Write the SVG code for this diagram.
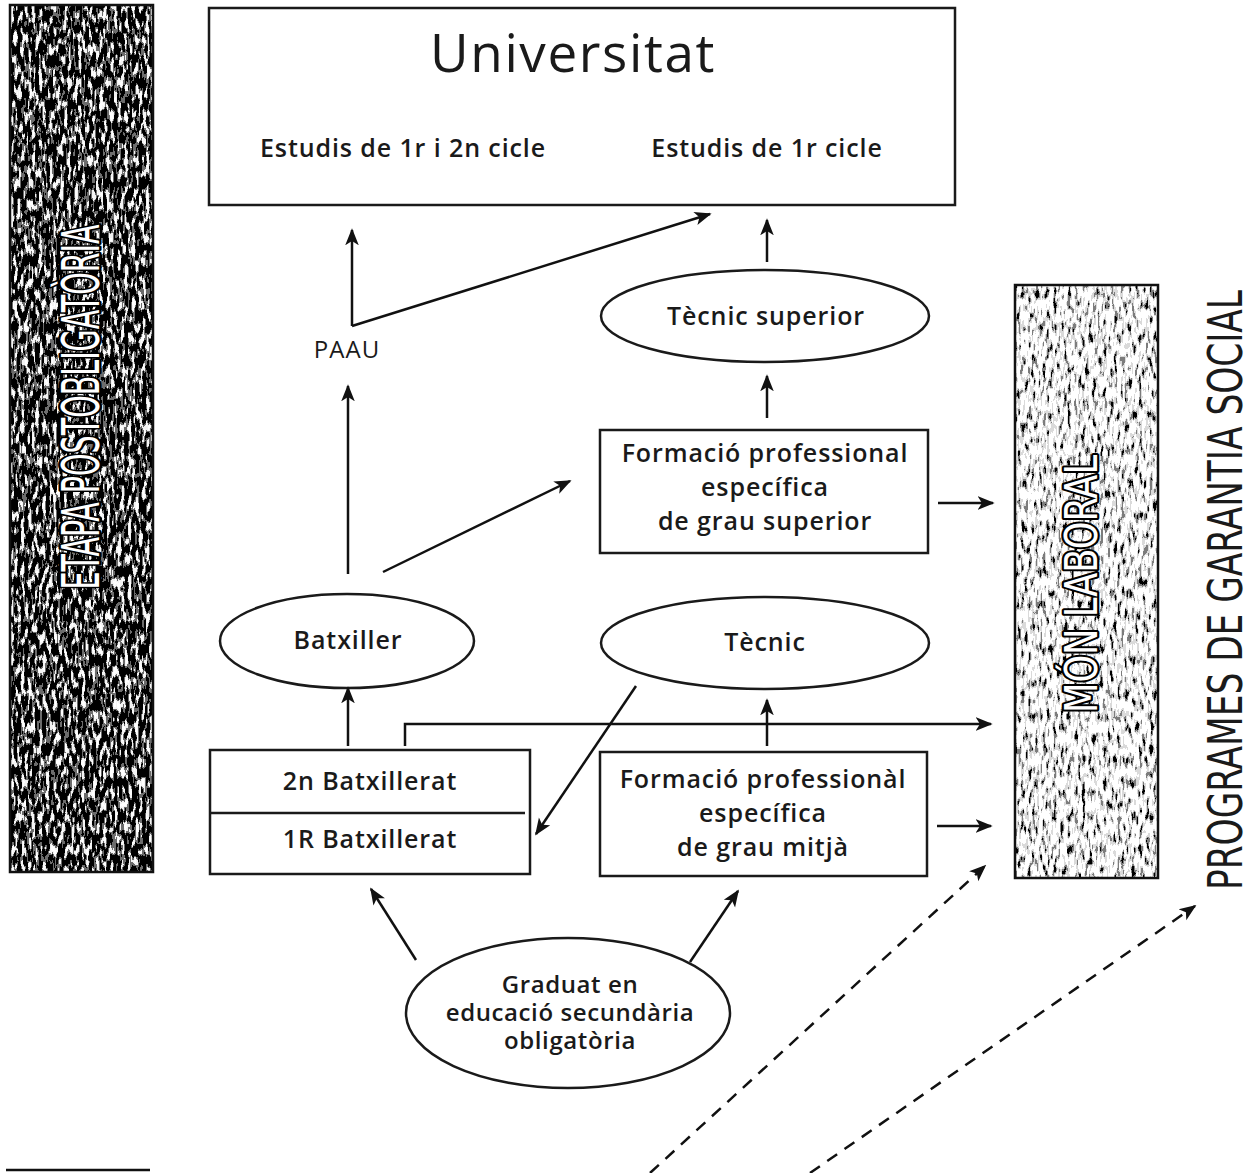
<svg xmlns="http://www.w3.org/2000/svg" width="1254" height="1173" viewBox="0 0 1254 1173">
<style>
  .box { fill: #ffffff; stroke: #1a1a1a; stroke-width: 2.5; }
  .conn { fill: none; stroke: #111; stroke-width: 2.5; }
  .dash { fill: none; stroke: #111; stroke-width: 2.5; stroke-dasharray: 12 9; }
  .lbl { font-family: "Open Sans", "Noto Sans", "Liberation Sans", sans-serif; font-weight: 600; font-size: 25px; letter-spacing: 0.9px; fill: #1a1a1a; text-anchor: middle; }
  .sm { font-size: 24px; letter-spacing: 0.6px; }
  .plain { font-family: "Open Sans", "Noto Sans", "Liberation Sans", sans-serif; font-weight: 400; font-size: 24px; letter-spacing: 1px; fill: #1a1a1a; text-anchor: middle; }
  .title { font-family: "Open Sans", "Noto Sans", "Liberation Sans", sans-serif; font-weight: 400; font-size: 53px; letter-spacing: 1.6px; fill: #1a1a1a; text-anchor: middle; }
  .bar { font-family: "Liberation Sans Narrow", "DejaVu Sans Condensed", "Liberation Sans", sans-serif; font-weight: 400; text-anchor: middle; }
  .halo { fill: #ffffff; stroke: #000; stroke-linejoin: round; }
</style>
<defs>
  <marker id="ahs" viewBox="0 0 10 10" refX="9" refY="5" markerWidth="17" markerHeight="17" markerUnits="userSpaceOnUse" orient="auto">
    <path d="M0,1 L10,5 L0,9 L2.5,5 Z" fill="#111"/>
  </marker>
  <filter id="noiseDark" x="0" y="0" width="100%" height="100%">
    <feTurbulence type="fractalNoise" baseFrequency="0.28 0.09" numOctaves="2" seed="4"/>
    <feColorMatrix type="matrix" values="1 0 0 0 0  1 0 0 0 0  1 0 0 0 0  0 0 0 0 1"/>
    <feComponentTransfer>
      <feFuncR type="discrete" tableValues="0 0 0 0 0 0.15 0.9 1 1 1"/>
      <feFuncG type="discrete" tableValues="0 0 0 0 0 0.15 0.9 1 1 1"/>
      <feFuncB type="discrete" tableValues="0 0 0 0 0 0.15 0.9 1 1 1"/>
    </feComponentTransfer>
  </filter>
  <filter id="noiseLight" x="0" y="0" width="100%" height="100%">
    <feTurbulence type="fractalNoise" baseFrequency="0.28 0.09" numOctaves="2" seed="9"/>
    <feColorMatrix type="matrix" values="1 0 0 0 0  1 0 0 0 0  1 0 0 0 0  0 0 0 0 1"/>
    <feComponentTransfer>
      <feFuncR type="discrete" tableValues="0 0 0 0.2 0.7 1 1 1 1 1"/>
      <feFuncG type="discrete" tableValues="0 0 0 0.2 0.7 1 1 1 1 1"/>
      <feFuncB type="discrete" tableValues="0 0 0 0.2 0.7 1 1 1 1 1"/>
    </feComponentTransfer>
  </filter>
</defs>

<rect width="1254" height="1173" fill="#ffffff"/>

<g id="etapa-postobligatoria">
  <rect x="10" y="5" width="143" height="867" fill="#444" filter="url(#noiseDark)"/>
  <rect x="10" y="5" width="143" height="867" fill="none" stroke="#111" stroke-width="2.5"/>
  <text class="bar halo" transform="translate(99,407) rotate(-90)" font-size="52" stroke-width="5" textLength="365" lengthAdjust="spacingAndGlyphs">ETAPA POSTOBLIGATÒRIA</text>
  <text class="bar" transform="translate(99,407) rotate(-90)" font-size="52" fill="#ffffff" textLength="365" lengthAdjust="spacingAndGlyphs">ETAPA POSTOBLIGATÒRIA</text>
</g>

<g id="mon-laboral">
  <rect x="1015" y="285" width="143" height="593" fill="#ccc" filter="url(#noiseLight)"/>
  <rect x="1015" y="285" width="143" height="593" fill="none" stroke="#111" stroke-width="2.5"/>
  <text class="bar halo" transform="translate(1097,584) rotate(-90)" font-size="44" stroke-width="4.5" textLength="258" lengthAdjust="spacingAndGlyphs">MÓN LABORAL</text>
  <text class="bar" transform="translate(1097,584) rotate(-90)" font-size="44" fill="#ffffff" textLength="258" lengthAdjust="spacingAndGlyphs">MÓN LABORAL</text>
</g>

<g id="programes-garantia-social">
  <text class="bar" transform="translate(1242,590) rotate(-90)" font-size="48" fill="#1a1a1a" textLength="600" lengthAdjust="spacingAndGlyphs">PROGRAMES DE GARANTIA SOCIAL</text>
</g>

<g id="universitat">
  <rect class="box" x="209" y="8" width="746" height="197"/>
  <text class="title" x="573" y="72">Universitat</text>
  <text class="lbl" x="403" y="157">Estudis de 1r i 2n cicle</text>
  <text class="lbl" x="767" y="157">Estudis de 1r cicle</text>
</g>

<g id="paau">
  <text class="plain" x="347" y="358">PAAU</text>
</g>

<g id="tecnic-superior">
  <ellipse class="box" cx="765" cy="316" rx="164" ry="46"/>
  <text class="lbl" x="766" y="325">Tècnic superior</text>
</g>

<g id="fp-grau-superior">
  <rect class="box" x="600" y="430" width="328" height="123"/>
  <text class="lbl" x="765" y="462">Formació professional</text>
  <text class="lbl" x="765" y="496">específica</text>
  <text class="lbl" x="765" y="530">de grau superior</text>
</g>

<g id="batxiller">
  <ellipse class="box" cx="347" cy="641" rx="127" ry="47"/>
  <text class="lbl" x="348" y="649">Batxiller</text>
</g>

<g id="tecnic">
  <ellipse class="box" cx="765" cy="643" rx="164" ry="46"/>
  <text class="lbl" x="765" y="651">Tècnic</text>
</g>

<g id="batxillerat">
  <rect class="box" x="210" y="750" width="320" height="124"/>
  <line x1="210" y1="813" x2="525" y2="813" stroke="#1a1a1a" stroke-width="2.5"/>
  <text class="lbl" x="370" y="790">2n Batxillerat</text>
  <text class="lbl" x="370" y="848">1R Batxillerat</text>
</g>

<g id="fp-grau-mitja">
  <rect class="box" x="600" y="752" width="327" height="124"/>
  <text class="lbl" x="763" y="788">Formació professionàl</text>
  <text class="lbl" x="763" y="822">específica</text>
  <text class="lbl" x="763" y="856">de grau mitjà</text>
</g>

<g id="graduat-eso">
  <ellipse class="box" cx="568" cy="1013" rx="162" ry="75"/>
  <text class="lbl sm" x="570" y="993">Graduat en</text>
  <text class="lbl sm" x="570" y="1021">educació secundària</text>
  <text class="lbl sm" x="570" y="1049">obligatòria</text>
</g>

<g id="connectors">
  <line class="conn" x1="352" y1="326" x2="352" y2="230" marker-end="url(#ahs)"/>
  <path class="conn" d="M352,326 L710,214" marker-end="url(#ahs)"/>
  <line class="conn" x1="767" y1="262" x2="767" y2="220" marker-end="url(#ahs)"/>
  <line class="conn" x1="348" y1="574" x2="348" y2="386" marker-end="url(#ahs)"/>
  <line class="conn" x1="383" y1="572" x2="570" y2="481" marker-end="url(#ahs)"/>
  <line class="conn" x1="767" y1="418" x2="767" y2="376" marker-end="url(#ahs)"/>
  <line class="conn" x1="938" y1="503" x2="993" y2="503" marker-end="url(#ahs)"/>
  <line class="conn" x1="348" y1="746" x2="348" y2="688" marker-end="url(#ahs)"/>
  <path class="conn" d="M405,746 L405,724 L991,724" marker-end="url(#ahs)"/>
  <line class="conn" x1="767" y1="746" x2="767" y2="700" marker-end="url(#ahs)"/>
  <line class="conn" x1="636" y1="686" x2="536" y2="834" marker-end="url(#ahs)"/>
  <line class="conn" x1="937" y1="826" x2="991" y2="826" marker-end="url(#ahs)"/>
  <line class="conn" x1="416" y1="960" x2="371" y2="889" marker-end="url(#ahs)"/>
  <line class="conn" x1="690" y1="962" x2="738" y2="891" marker-end="url(#ahs)"/>
  <line class="dash" x1="650" y1="1173" x2="985" y2="866" marker-end="url(#ahs)"/>
  <line class="dash" x1="810" y1="1173" x2="1195" y2="906" marker-end="url(#ahs)"/>
</g>

<line x1="6" y1="1170" x2="150" y2="1170" stroke="#111" stroke-width="2.5"/>
</svg>
